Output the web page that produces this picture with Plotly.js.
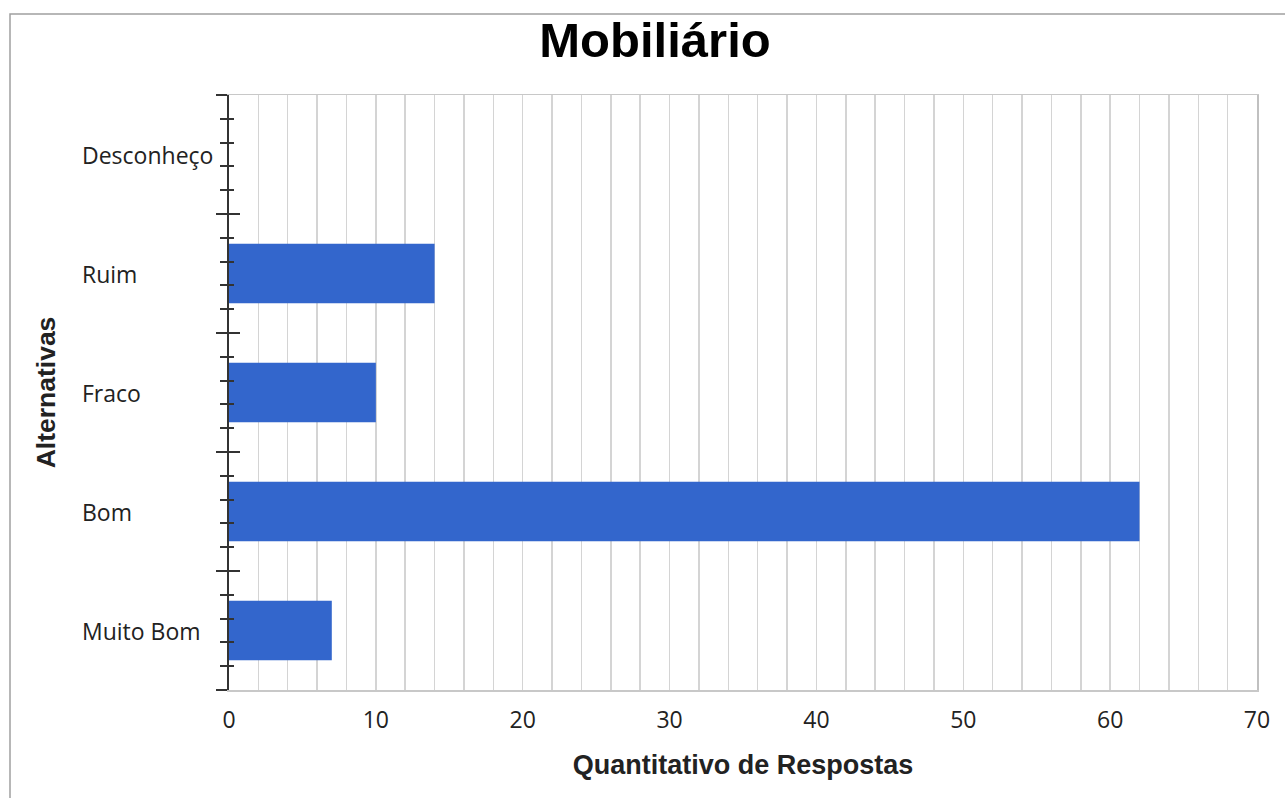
<!DOCTYPE html>
<html><head><meta charset="utf-8">
<script src="https://cdn.plot.ly/plotly-3.0.1.min.js"></script>
<style>html,body{margin:0;padding:0;background:#fff}#chart{width:1285px;height:798px}</style>
</head><body><div id="chart"></div>
<script>
const categories = ["Muito Bom", "Bom", "Fraco", "Ruim", "Desconheço"];
const values = [7, 62, 10, 14, 0];
const xTickVals = [0, 10, 20, 30, 40, 50, 60, 70];

const W = 1285, H = 798, L = 229, R = 28, T = 95, B = 108;
const pw = W - L - R, ph = H - T - B;
const px = v => (v - L) / pw;
const py = v => (H - B - v) / ph;

const trace = {
  type: 'bar', orientation: 'h', y: categories, x: values,
  marker: {color: '#3366cc'}, width: 0.5, hoverinfo: 'x+y'
};
const dummy2 = {type:'scatter', x:[null], y:[null], yaxis:'y2', showlegend:false, hoverinfo:'skip'};
const dummy3 = {type:'scatter', x:[null], y:[null], yaxis:'y3', showlegend:false, hoverinfo:'skip'};
const dummy4 = {type:'scatter', x:[null], y:[null], yaxis:'y4', showlegend:false, hoverinfo:'skip'};

const tickFont = {family: 'Open Sans, DejaVu Sans, sans-serif', size: 23, color: '#222'};

const annotations = categories.map(c => ({
  xref: 'paper', yref: 'y', x: px(80), y: c, xanchor: 'left', yanchor: 'middle',
  text: c, showarrow: false, font: tickFont
}));

const layout = {
  width: W, height: H,
  margin: {l: L, r: R, t: T, b: B},
  paper_bgcolor: '#fff', plot_bgcolor: '#fff',
  showlegend: false,
  title: {text: 'Mobiliário', x: 655 / W, xanchor: 'center', y: 1 - 40/H, yanchor: 'middle',
          font: {family: 'Liberation Sans, Arial, sans-serif', size: 49, color: '#000', weight: 'bold'}},
  xaxis: {
    range: [0, 70], tickvals: xTickVals, ticks: '', tickfont: tickFont, ticklabelstandoff: 9,
    showgrid: true, gridcolor: '#d4d4d4', gridwidth: 1.5,
    minor: {dtick: 2, tick0: 0, showgrid: true, gridcolor: '#d4d4d4', gridwidth: 1.5},
    showline: true, linecolor: '#c8c8c8', linewidth: 1.5, mirror: true,
    zeroline: false, fixedrange: true,
    title: {text: 'Quantitativo de Respostas', standoff: 21,
            font: {family: 'Liberation Sans, Arial, sans-serif', size: 27, color: '#222', weight: 'bold'}}
  },
  yaxis: {
    type: 'category', categoryorder: 'array', categoryarray: categories,
    range: [-0.5, 4.5], showticklabels: false, ticks: '', showgrid: false, zeroline: false,
    showline: false, fixedrange: true,
    title: {text: 'Alternativas', standoff: 164,
            font: {family: 'Liberation Sans, Arial, sans-serif', size: 26.5, color: '#222', weight: 'bold'}}
  },
  yaxis2: {
    overlaying: 'y', range: [-0.5, 4.5], tick0: -0.5, dtick: 1, ticks: 'outside', ticklen: 11,
    tickwidth: 2, tickcolor: '#333', showticklabels: false, showgrid: false, zeroline: false,
    showline: true, linecolor: '#333', linewidth: 2,
    minor: {dtick: 0.2, tick0: -0.5, ticks: 'outside', ticklen: 7, tickwidth: 2, tickcolor: '#333', showgrid: false},
    fixedrange: true
  },
  yaxis3: {
    overlaying: 'y', range: [-0.5, 4.5], tick0: -0.5, dtick: 1, ticks: 'inside', ticklen: 11,
    tickwidth: 2, tickcolor: '#333', showticklabels: false, showgrid: false, zeroline: false,
    showline: false,
    minor: {dtick: 0.2, tick0: -0.5, ticks: 'inside', ticklen: 5, tickwidth: 2, tickcolor: '#333', showgrid: false},
    fixedrange: true
  },
  yaxis4: {
    overlaying: 'y', side: 'right', range: [-0.5, 4.5], showticklabels: false, ticks: '',
    showgrid: false, zeroline: false, showline: true, linecolor: '#c0c0c0', linewidth: 2, fixedrange: true
  },
  annotations: annotations,
  shapes: [{
    type: 'rect', xref: 'paper', yref: 'paper', x0: px(10), x1: px(1300), y0: py(810), y1: py(14),
    line: {color: '#a0a0a0', width: 1.5}, fillcolor: 'rgba(0,0,0,0)', layer: 'below'
  }]
};

Plotly.newPlot('chart', [trace, dummy2, dummy3, dummy4], layout, {displayModeBar: false, staticPlot: true});
</script></body></html>
